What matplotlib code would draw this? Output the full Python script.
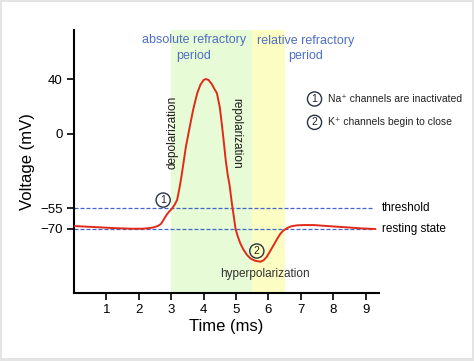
import matplotlib
matplotlib.use("Agg")
import matplotlib.pyplot as plt
from matplotlib.patches import Rectangle

plt.rcParams['font.family'] = ['Liberation Sans', 'DejaVu Sans']

# ---- data ----
time_ms = [0.0, 0.4, 0.8, 1.3, 1.8, 2.1, 2.3, 2.46, 2.6, 2.68, 2.75, 2.82, 2.88,
           2.95, 3.03, 3.1, 3.18, 3.23, 3.28, 3.35, 3.45, 3.57, 3.68, 3.8, 3.9,
           4.0, 4.07, 4.15, 4.25, 4.33, 4.41, 4.5, 4.57, 4.63, 4.68, 4.74, 4.8,
           4.87, 4.93, 4.98, 5.05, 5.13, 5.23, 5.34, 5.45, 5.59, 5.75, 5.85,
           5.95, 6.05, 6.16, 6.26, 6.36, 6.46, 6.57, 6.7, 6.88, 7.1, 7.39, 7.8,
           8.42, 8.9, 9.3]
voltage_mv = [-68.0, -68.5, -69.0, -69.6, -70.0, -70.0, -69.6, -69.0, -67.8, -66.5,
              -64.0, -61.2, -59.0, -57.0, -55.0, -52.5, -48.9, -43.0, -36.6, -26.0,
              -10.0, 5.0, 18.0, 29.7, 36.0, 39.5, 40.2, 39.5, 36.5, 33.0, 29.7,
              19.0, 5.0, -8.0, -19.4, -30.0, -38.0, -51.3, -61.0, -69.6, -75.5,
              -80.8, -85.5, -89.4, -92.0, -93.6, -94.3, -93.2, -90.6, -86.5, -82.0,
              -77.8, -73.9, -71.3, -69.6, -68.2, -67.5, -67.3, -67.3, -68.0, -69.0,
              -69.8, -70.2]

threshold_mv = -55
resting_mv = -70
absolute_period = (3.0, 5.5)
relative_period = (5.5, 6.5)
x_ticks = [1, 2, 3, 4, 5, 6, 7, 8, 9]
y_ticks = [40, 0, -55, -70]

# ---- figure ----
W, H = 474, 361
fig = plt.figure(figsize=(W / 100, H / 100), dpi=100, facecolor='#e4e4e4')
fig.patches.append(Rectangle((2 / W, 3 / H), 470 / W, 356 / H, transform=fig.transFigure,
                             facecolor='white', edgecolor='none', zorder=-10))

ax = fig.add_axes([74 / W, 1 - 292.7 / H, (378.7 - 74) / W, (292.7 - 30) / H])
ax.set_facecolor('none')
ax.set_xlim(0, 9.4)
ax.set_ylim(-117.1, 76.3)

ax.axvspan(*absolute_period, color='#e6fbd6', zorder=0, lw=0)
ax.axvspan(*relative_period, color='#fcfdc2', zorder=0, lw=0)

for yv in (threshold_mv, resting_mv):
    ln, = ax.plot([0, 9.25], [yv, yv], color='#4466cc', lw=0.9, zorder=2)
    ln.set_dashes((3.2, 1.6))

ax.plot(time_ms, voltage_mv, color='#e02a1a', lw=1.4, zorder=3, solid_capstyle='round')

for s in ('top', 'right'):
    ax.spines[s].set_visible(False)
for s in ('left', 'bottom'):
    ax.spines[s].set_linewidth(1.5)
ax.set_xticks(x_ticks)
ax.set_yticks(y_ticks)
ax.set_yticklabels([str(v).replace('-', '\u2212') for v in y_ticks])
ax.tick_params(axis='both', direction='out', length=5, width=1.2, labelsize=9.5, pad=3)

ax.set_xlabel('Time (ms)', fontsize=12, labelpad=2)
ax.set_ylabel('Voltage (mV)', fontsize=12, labelpad=4)

blue = '#4f6fc2'
ax.text(3.70, 63.0, 'absolute refractory\nperiod', color=blue, fontsize=9,
        ha='center', va='center', linespacing=1.35)
ax.text(7.16, 62.4, 'relative refractory\nperiod', color=blue, fontsize=9,
        ha='center', va='center', linespacing=1.35)

ax.text(3.04, 0.8, 'depolarization', rotation=90, fontsize=8.5, ha='center', va='center',
        color='#1a1a1a')
ax.text(5.0, 0.5, 'repolarization', rotation=-90, fontsize=8.5, ha='center', va='center',
        color='#1a1a1a')
ax.text(5.9, -103.4, 'hyperpolarization', fontsize=8.5, ha='center', va='center',
        color='#333333')

ax.text(9.5, threshold_mv, 'threshold', fontsize=8.5, ha='left', va='center', clip_on=False)
ax.text(9.5, resting_mv, 'resting state', fontsize=8.5, ha='left', va='center', clip_on=False)

circ = dict(boxstyle='circle,pad=0.2', fc='none', ec='#2a3344', lw=1.0)
ax.text(2.75, -48.9, '1', fontsize=7.5, ha='center', va='center', bbox=circ, color='#222')
ax.text(5.64, -86.4, '2', fontsize=7.5, ha='center', va='center', bbox=circ, color='#222')
ax.text(7.42, 25.5, '1', fontsize=7.5, ha='center', va='center', bbox=circ, color='#222')
ax.text(7.42, 8.3, '2', fontsize=7.5, ha='center', va='center', bbox=circ, color='#222')
ax.text(7.83, 25.5, 'Na\u207a channels are inactivated', fontsize=7.5, ha='left', va='center',
        color='#222', clip_on=False)
ax.text(7.83, 8.3, 'K\u207a channels begin to close', fontsize=7.5, ha='left', va='center',
        color='#222', clip_on=False)

fig.savefig('out.png', dpi=100, facecolor=fig.get_facecolor())
